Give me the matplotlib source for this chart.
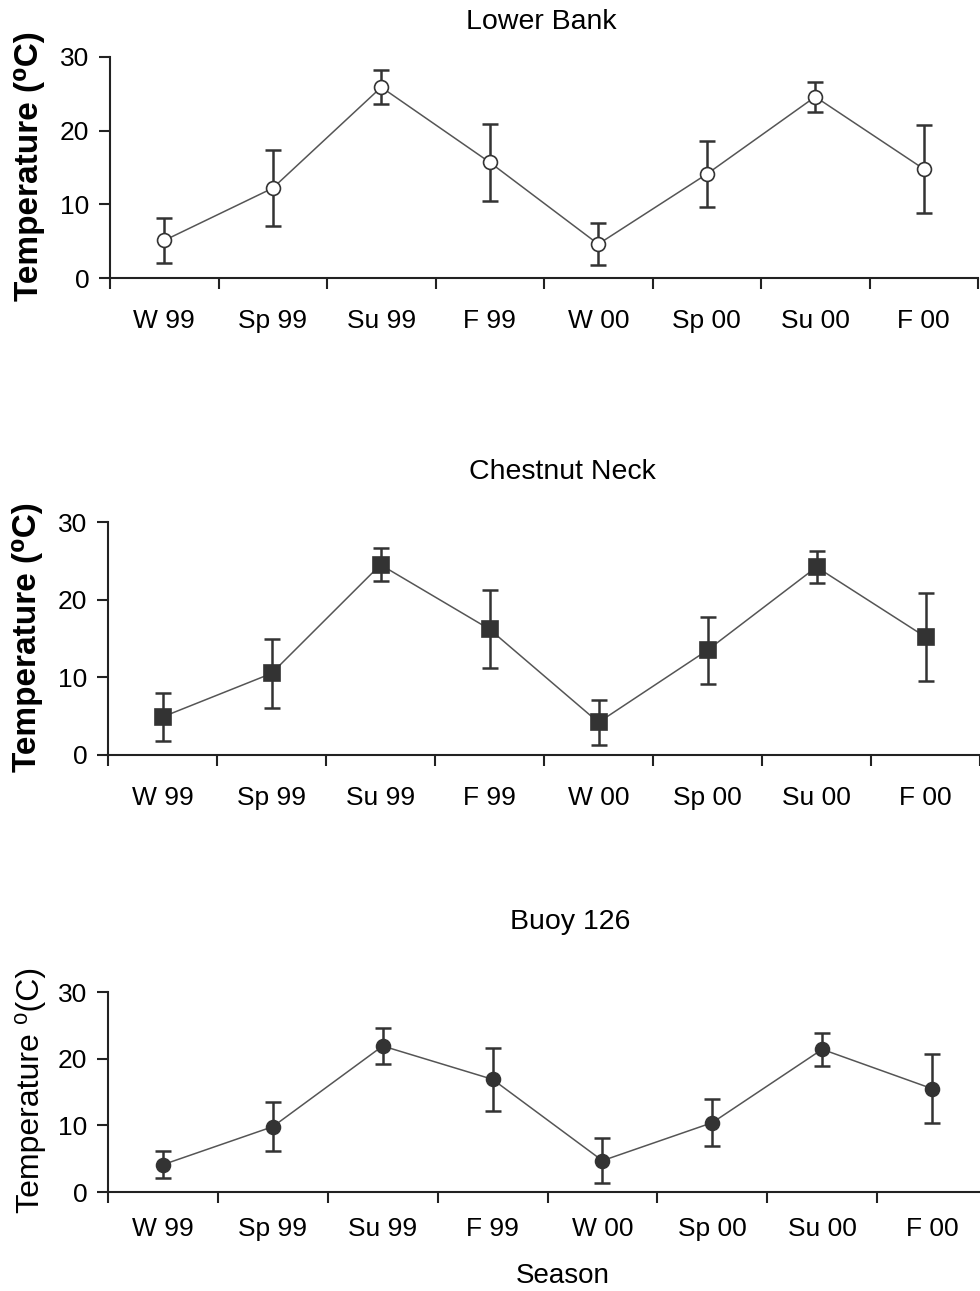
import matplotlib.pyplot as plt
import numpy as np

plt.rcParams['font.family'] = ['Liberation Sans', 'DejaVu Sans']

seasons = ["W 99", "Sp 99", "Su 99", "F 99", "W 00", "Sp 00", "Su 00", "F 00"]

# mean temperature and error per site
lower_bank = [5.1, 12.2, 25.9, 15.7, 4.6, 14.1, 24.6, 14.8]
lower_bank_err = [3.1, 5.2, 2.3, 5.2, 2.9, 4.5, 2.0, 6.0]

chestnut_neck = [4.9, 10.5, 24.5, 16.2, 4.2, 13.5, 24.2, 15.2]
chestnut_neck_err = [3.1, 4.4, 2.1, 5.0, 2.9, 4.3, 2.1, 5.7]

buoy_126 = [4.1, 9.8, 21.9, 16.9, 4.7, 10.4, 21.4, 15.5]
buoy_126_err = [2.0, 3.7, 2.7, 4.7, 3.4, 3.5, 2.5, 5.2]

W, H = 980, 1291

def px_axes(fig, x0, y0, x1, y1):
    return fig.add_axes([x0 / W, 1 - y1 / H, (x1 - x0) / W, (y1 - y0) / H])

def draw_panel(ax, vals, errs, marker, mface, msize, label_pad):
    x = np.arange(len(vals)) + 0.5
    ax.errorbar(x, vals, yerr=errs, fmt='none', ecolor='#333333', elinewidth=1.8,
                capsize=6, capthick=1.8, zorder=2, clip_on=False)
    ax.plot(x, vals, color='#555555', linewidth=1.1, zorder=3, clip_on=False)
    ax.plot(x, vals, linestyle='none', marker=marker, markersize=msize,
            markerfacecolor=mface, markeredgecolor='#333333', markeredgewidth=1.2,
            zorder=4, clip_on=False)
    ax.set_xlim(0, len(vals))
    ax.set_ylim(0, 30)
    ax.set_xticks(np.arange(len(vals) + 1))
    ax.set_xticklabels([])
    ax.set_xticks(x, minor=True)
    ax.set_xticklabels(seasons, minor=True, fontsize=19)
    ax.tick_params(axis='x', which='major', direction='out', length=8, width=1.5, color='#222222')
    ax.tick_params(axis='x', which='minor', length=0, pad=label_pad)
    ax.set_yticks([0, 10, 20, 30])
    ax.tick_params(axis='y', direction='out', length=8, width=1.5, color='#222222',
                   labelsize=19, pad=7)
    for s in ['top', 'right']:
        ax.spines[s].set_visible(False)
    for s in ['left', 'bottom']:
        ax.spines[s].set_linewidth(1.5)
        ax.spines[s].set_color('#222222')

fig = plt.figure(figsize=(W / 100, H / 100), dpi=100)

ax1 = px_axes(fig, 110, 57, 978, 278)
draw_panel(ax1, lower_bank, lower_bank_err, 'o', 'white', 10, 22)
fig.text(541 / W, 1 - 22 / H, "Lower Bank", ha='center', va='center', fontsize=20.5)
fig.text(30 / W, 1 - 166 / H, "Temperature (\u2070C)", rotation=90, ha='center',
         va='center', fontsize=24, fontweight='bold')

ax2 = px_axes(fig, 108, 522, 980, 755)
draw_panel(ax2, chestnut_neck, chestnut_neck_err, 's', '#333333', 11, 22)
fig.text(562 / W, 1 - 472 / H, "Chestnut Neck", ha='center', va='center', fontsize=20.5)
fig.text(28 / W, 1 - 637 / H, "Temperature (\u2070C)", rotation=90, ha='center',
         va='center', fontsize=24, fontweight='bold')

ax3 = px_axes(fig, 108, 992, 987, 1192)
draw_panel(ax3, buoy_126, buoy_126_err, 'o', '#333333', 10, 18)
fig.text(570 / W, 1 - 922 / H, "Buoy 126", ha='center', va='center', fontsize=20.5)
fig.text(30 / W, 1 - 1090 / H, "Temperature \u2070(C)", rotation=90, ha='center',
         va='center', fontsize=23)
fig.text(563 / W, 1 - 1276 / H, "Season", ha='center', va='center', fontsize=20)

fig.savefig("out.png", dpi=100)
